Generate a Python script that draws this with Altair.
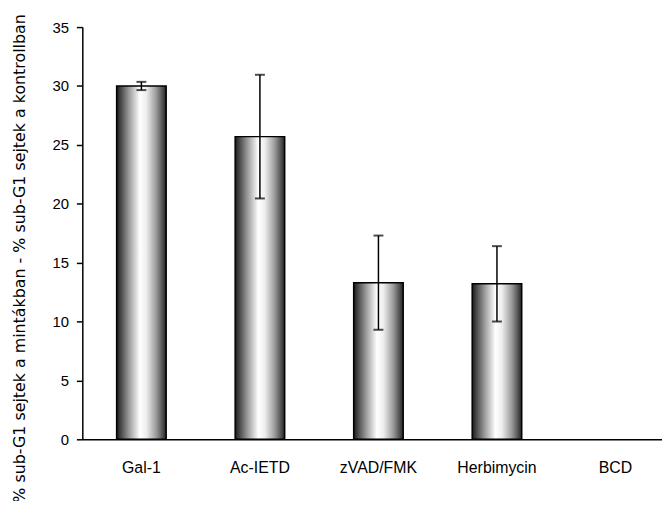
import altair as alt
import pandas as pd

categories = ["Gal-1", "Ac-IETD", "zVAD/FMK", "Herbimycin", "BCD"]
values = [30.0, 25.7, 13.3, 13.2, 0.0]
errors = [0.35, 5.25, 4.0, 3.2, None]
y_ticks = [0, 5, 10, 15, 20, 25, 30, 35]

df = pd.DataFrame({"cat": categories, "val": values, "err": errors})
df["lo"] = df["val"] - df["err"]
df["hi"] = df["val"] + df["err"]

FONT = "Liberation Sans"

xscale = alt.Scale(domain=categories, paddingInner=0.582, paddingOuter=0.2365, align=0.612)
yscale = alt.Scale(domain=[0, 35], nice=False)

x_enc = alt.X("cat:N", scale=xscale, sort=categories,
              axis=alt.Axis(title=None, labelAngle=0, ticks=False, labelPadding=20,
                            labelFont=FONT, labelFontSize=16, labelColor="#000",
                            domainColor="#000", domainWidth=1.5))

grad = alt.Gradient(
    gradient="linear", x1=0, x2=1, y1=0, y2=0,
    stops=[
        alt.GradientStop(offset=0.0, color="#1a1a1a"),
        alt.GradientStop(offset=0.08, color="#454545"),
        alt.GradientStop(offset=0.25, color="#9a9a9a"),
        alt.GradientStop(offset=0.47, color="#ffffff"),
        alt.GradientStop(offset=0.6, color="#eeeeee"),
        alt.GradientStop(offset=0.8, color="#9a9a9a"),
        alt.GradientStop(offset=0.92, color="#555555"),
        alt.GradientStop(offset=1.0, color="#222222"),
    ],
)

bars = alt.Chart(df).transform_filter("datum.val > 0").mark_bar(
    color=grad, stroke="#000", strokeWidth=1.5).encode(
    x=x_enc,
    y=alt.Y("val:Q", scale=yscale,
            axis=alt.Axis(values=y_ticks, grid=False, tickSize=6, tickColor="#000",
                          tickWidth=1.5, labelPadding=8, labelFont=FONT,
                          labelFontSize=15, labelColor="#000",
                          domainColor="#000", domainWidth=1.5,
                          title="% sub-G1 sejtek a mintákban - % sub-G1 sejtek a kontrollban",
                          titleFont="DejaVu Sans", titleFontSize=16, titleFontWeight="normal",
                          titleColor="#000", titleAngle=270, titleAlign="center",
                          titleBaseline="bottom", titleX=-55, titleY=233)),
)

err_rule = alt.Chart(df).transform_filter("isValid(datum.err)").mark_rule(
    color="#000", strokeWidth=1.5).encode(
    x=alt.X("cat:N", scale=xscale, sort=categories),
    y=alt.Y("lo:Q", scale=yscale),
    y2="hi:Q",
)

caps_hi = alt.Chart(df).transform_filter("isValid(datum.err)").mark_tick(
    color="#000", size=10, thickness=2).encode(
    x=alt.X("cat:N", scale=xscale, sort=categories),
    y=alt.Y("hi:Q", scale=yscale),
)
caps_lo = alt.Chart(df).transform_filter("isValid(datum.err)").mark_tick(
    color="#000", size=10, thickness=2).encode(
    x=alt.X("cat:N", scale=xscale, sort=categories),
    y=alt.Y("lo:Q", scale=yscale),
)

chart = alt.layer(bars, err_rule, caps_hi, caps_lo).properties(
    width=585, height=416,
    autosize=alt.AutoSizeParams(type="none"),
    padding={"left": 75, "top": 17, "right": 0, "bottom": 60},
    background="white",
).configure_view(stroke=None)

chart.save("out.html", embed_options={"renderer": "svg", "actions": False})
